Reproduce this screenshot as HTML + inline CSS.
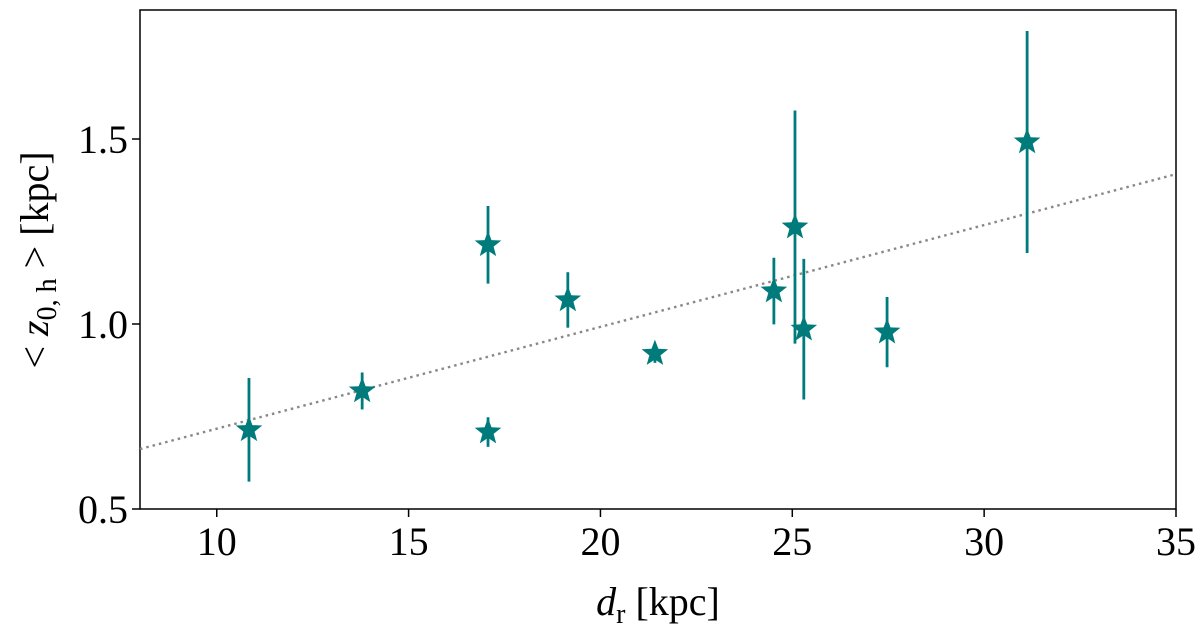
<!DOCTYPE html>
<html><head><meta charset="utf-8"><style>
html,body{margin:0;padding:0;background:#fff;}
svg{display:block;font-family:"Liberation Serif",serif;}
</style></head><body>
<svg id="chart" width="1200" height="628">
<g id="axes"></g>
<g id="marks"></g>
</svg>
<script>
const xVals=[10.84,13.79,17.07,17.07,19.15,21.42,24.52,25.07,25.30,27.47,31.12];
const yVals=[0.714,0.819,1.214,0.708,1.065,0.92,1.089,1.262,0.986,0.978,1.492];
const yErr=[0.14,0.05,0.105,0.04,0.075,0.025,0.09,0.315,0.19,0.095,0.3];
const xTicks=[10,15,20,25,30,35];
const yTicks=[0.5,1.0,1.5];
const yTickLabels=["0.5","1.0","1.5"];
const fitX=[8,35];
const fitY=[0.662,1.405];

const L=140,R=1176,T=10,B=509;
const X=v=>L+(v-8)*(R-L)/27;
const Y=v=>B-(v-0.5)*370;
const NS="http://www.w3.org/2000/svg";
const axes=document.getElementById('axes'),marks=document.getElementById('marks');
function mk(t,a,p){const e=document.createElementNS(NS,t);for(const k in a)e.setAttribute(k,a[k]);p.appendChild(e);return e;}

const frame=mk('rect',{x:L,y:T,width:R-L,height:B-T,fill:'none',stroke:'#000','stroke-width':1.5},axes);



xTicks.forEach(v=>{
  const t=mk('line',{x1:X(v),x2:X(v),y1:B,y2:B+8,stroke:'#000','stroke-width':1.5},axes);
  
  
  const s=mk('text',{x:X(v),y:B+46,'text-anchor':'middle','font-size':40},axes);
  s.textContent=v;
  
  
});
yTicks.forEach((v,i)=>{
  const t=mk('line',{x1:L-8,x2:L,y1:Y(v),y2:Y(v),stroke:'#000','stroke-width':1.5},axes);
  
  
  const s=mk('text',{x:L-12,y:Y(v)+14,'text-anchor':'end','font-size':40},axes);
  s.textContent=yTickLabels[i];
  
  
});

const fit=mk('line',{x1:X(fitX[0]),y1:Y(fitY[0]),x2:X(fitX[1]),y2:Y(fitY[1]),stroke:'#888','stroke-width':2.4,'stroke-dasharray':'2.5,4'},marks);



function starPath(cx,cy,r){let d='';for(let i=0;i<10;i++){const rr=i%2?r*0.42:r;const a=-Math.PI/2+i*Math.PI/5;d+=(i?'L':'M')+(cx+rr*Math.cos(a)).toFixed(1)+','+(cy+rr*Math.sin(a)).toFixed(1);}return d+'Z';}
xVals.forEach((xv,i)=>{
  const e=mk('line',{x1:X(xv),x2:X(xv),y1:Y(yVals[i]+yErr[i]),y2:Y(yVals[i]-yErr[i]),stroke:'#007b7b','stroke-width':2.8},marks);
  
  
  const s=mk('path',{d:starPath(X(xv),Y(yVals[i]),14),fill:'#007b7b'},marks);
  
  
});
</script>
<div style="position:absolute;left:0;top:0;width:1200px;height:628px;pointer-events:none;font-family:'Liberation Serif',serif;">
  <div style="position:absolute;left:0;width:1316px;top:580px;text-align:center;font-size:40px;line-height:44px;"><i>d</i><span style="font-size:28px;position:relative;top:8px;">r</span> [kpc]</div>
  <div style="position:absolute;left:-175px;top:238px;width:420px;height:44px;text-align:center;font-size:40px;line-height:44px;transform:rotate(-90deg);white-space:nowrap;">&lt; <i>z</i><span style="font-size:28px;position:relative;top:8px;">0, h</span> &gt; [kpc]</div>
</div>
</body></html>
